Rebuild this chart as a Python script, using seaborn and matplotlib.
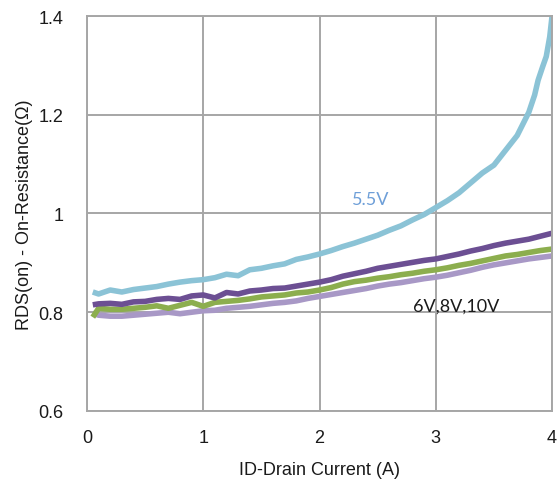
import matplotlib
matplotlib.use("Agg")
import matplotlib.pyplot as plt
import seaborn as sns
import pandas as pd

# Drain current grid (A) shared by the 6V/8V/10V traces
current = [0.05, 0.1, 0.2, 0.3, 0.4, 0.5, 0.6, 0.7, 0.8, 0.9, 1.0,
           1.1, 1.2, 1.3, 1.4, 1.5, 1.6, 1.7, 1.8, 1.9, 2.0,
           2.1, 2.2, 2.3, 2.4, 2.5, 2.6, 2.7, 2.8, 2.9, 3.0,
           3.1, 3.2, 3.3, 3.4, 3.5, 3.6, 3.7, 3.8, 3.9, 4.0]

# 5.5V trace has extra points where it turns up sharply
current_55 = current[:-2] + [3.85, 3.88, 3.92, 3.95, 3.98, 4.0]
rds_55 = [0.841, 0.837, 0.845, 0.841, 0.846, 0.849, 0.852, 0.857, 0.861, 0.864, 0.866,
          0.870, 0.877, 0.874, 0.886, 0.889, 0.894, 0.898, 0.907, 0.912, 0.918,
          0.925, 0.933, 0.940, 0.948, 0.956, 0.966, 0.975, 0.987, 0.998, 1.012,
          1.026, 1.042, 1.062, 1.082, 1.098, 1.128, 1.158, 1.205,
          1.240, 1.270, 1.298, 1.318, 1.358, 1.400]

rds_6 = [0.815, 0.817, 0.818, 0.816, 0.821, 0.822, 0.826, 0.828, 0.826, 0.833, 0.835,
         0.829, 0.840, 0.837, 0.843, 0.845, 0.848, 0.849, 0.853, 0.857, 0.861,
         0.866, 0.873, 0.878, 0.883, 0.889, 0.893, 0.897, 0.901, 0.905, 0.908,
         0.913, 0.918, 0.924, 0.929, 0.935, 0.940, 0.944, 0.948, 0.954, 0.960]

rds_8 = [0.790, 0.808, 0.806, 0.806, 0.808, 0.810, 0.813, 0.808, 0.814, 0.820, 0.812,
         0.820, 0.822, 0.824, 0.827, 0.831, 0.833, 0.835, 0.839, 0.841, 0.845,
         0.850, 0.857, 0.862, 0.865, 0.869, 0.872, 0.876, 0.879, 0.883, 0.886,
         0.890, 0.895, 0.899, 0.904, 0.909, 0.914, 0.917, 0.921, 0.925, 0.928]

rds_10 = [0.798, 0.794, 0.792, 0.792, 0.794, 0.796, 0.798, 0.800, 0.797, 0.800, 0.803,
          0.804, 0.808, 0.810, 0.812, 0.815, 0.818, 0.820, 0.823, 0.828, 0.832,
          0.836, 0.840, 0.844, 0.848, 0.853, 0.857, 0.860, 0.864, 0.868, 0.871,
          0.875, 0.880, 0.885, 0.891, 0.896, 0.900, 0.904, 0.908, 0.911, 0.914]

x_ticks = [0, 1, 2, 3, 4]
y_ticks = [0.6, 0.8, 1.0, 1.2, 1.4]
y_tick_labels = ["0.6", "0.8", "1", "1.2", "1.4"]

series = [("10V", current, rds_10), ("8V", current, rds_8),
          ("6V", current, rds_6), ("5.5V", current_55, rds_55)]
frames = [pd.DataFrame({"ID": xs, "RDS": ys, "VGS": name}) for name, xs, ys in series]
df = pd.concat(frames, ignore_index=True)

palette = {"5.5V": "#8BC3D6", "6V": "#6C4F93", "8V": "#8CAE4E", "10V": "#A898C6"}

sns.set_theme(style="white")
plt.rcParams["font.family"] = ["Liberation Sans", "DejaVu Sans"]

fig = plt.figure(figsize=(5.59, 4.89), dpi=100)
ax = fig.add_axes([0.1556, 0.1575, 0.832, 0.8077])

grid_color = "#A6A6A6"
ax.set_xlim(0, 4)
ax.set_ylim(0.6, 1.4)
ax.set_xticks(x_ticks)
ax.set_yticks(y_ticks)
ax.set_yticklabels(y_tick_labels)
ax.grid(True, color=grid_color, linewidth=1.4)
ax.set_axisbelow(True)
for sp in ax.spines.values():
    sp.set_color(grid_color)
    sp.set_linewidth(1.4)

sns.lineplot(data=df, x="ID", y="RDS", hue="VGS", palette=palette,
             hue_order=["10V", "8V", "6V", "5.5V"], sort=False,
             estimator=None, linewidth=4.0, legend=False, ax=ax,
             solid_joinstyle="round", solid_capstyle="butt")

ax.tick_params(axis="both", length=0, labelsize=13, labelcolor="#1a1a1a")
ax.tick_params(axis="x", pad=13)
ax.tick_params(axis="y", pad=17)
ax.set_xlabel("ID-Drain Current (A)", fontsize=13, color="#1a1a1a", labelpad=11)
ax.set_ylabel("RDS(on) - On-Resistance(Ω)", fontsize=13, color="#1a1a1a", labelpad=4)

ax.text(2.28, 1.029, "5.5V", color="#6E9FD8", fontsize=13,
        family=["Lato", "DejaVu Sans"], va="center", ha="left")
ax.text(2.80, 0.813, "6V,8V,10V", color="#1a1a1a", fontsize=13,
        family=["Lato", "DejaVu Sans"], va="center", ha="left")

fig.savefig("out.png", dpi=100)
